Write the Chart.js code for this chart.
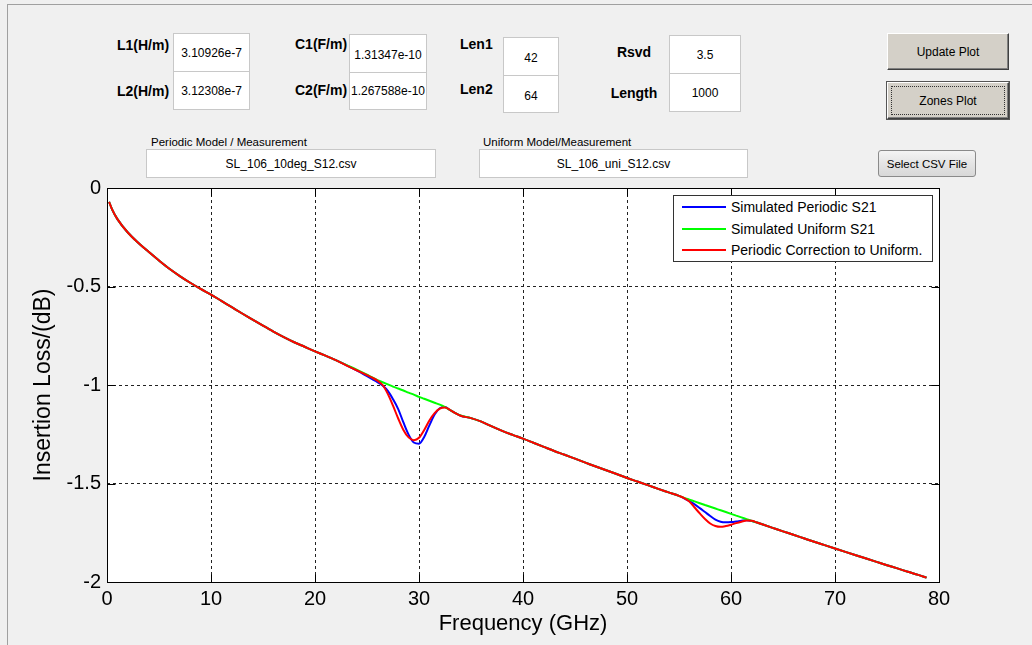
<!DOCTYPE html>
<html>
<head>
<meta charset="utf-8">
<title>Insertion Loss</title>
<script src="https://cdn.jsdelivr.net/npm/chart.js@4.4.1/dist/chart.umd.min.js"></script>
<style>
  html, body { margin: 0; padding: 0; }
  body {
    width: 1032px; height: 645px; background: #f0f0f0;
    position: relative; overflow: hidden;
    font-family: "Liberation Sans", Arial, sans-serif; color: #000;
  }
  .panel { position: absolute; left: 7px; top: 4px; width: 1040px; height: 660px;
    border-top: 1px solid #a0a0a0; border-left: 1px solid #a0a0a0; }
  .lbl { position: absolute; font-weight: bold; font-size: 14px; white-space: nowrap; transform: translateY(-50%); }
  .lbl.c { transform: translate(-50%, -50%); }
  .cap { position: absolute; font-size: 11.5px; white-space: nowrap; transform: translateY(-50%); }
  .box { position: absolute; background: #fff; border: 1px solid #c8c8c8; box-sizing: border-box;
    font-size: 12px; display: flex; align-items: center; justify-content: center; white-space: nowrap; }
  .btn { position: absolute; background: #d4d0c8; box-sizing: border-box; font-size: 12px;
    border: 1px solid; border-color: #fff #404040 #404040 #fff;
    box-shadow: inset -1px -1px #808080; display: flex; align-items: center; justify-content: center; }
  .btn .dots { position: absolute; left: 3px; top: 3px; right: 3px; bottom: 3px; border: 1px dotted #333; }
  .btn2 { position: absolute; box-sizing: border-box; font-size: 11.5px; border: 1px solid #8a8a8a; border-radius: 3px;
    background: linear-gradient(#f4f4f4, #e4e4e4 50%, #d8d8d8); display: flex; align-items: center; justify-content: center; }
  #chart { position: absolute; left: 0; top: 170px; }
  #legend { position: absolute; left: 673px; top: 195px; width: 260px; height: 67px; background: #fff;
    border: 1px solid #333; box-sizing: border-box; font-size: 14px; }
  #legend .row { position: absolute; left: 8px; height: 20px; display: flex; align-items: center; white-space: nowrap; }
  #legend .swatch { width: 44px; height: 2px; margin-right: 5px; }
</style>
</head>
<body>
<div class="panel"></div>

<div class="lbl" style="left:117px; top:45px;">L1(H/m)</div>
<div class="lbl" style="left:117px; top:91px;">L2(H/m)</div>
<div class="box" style="left:173px; top:33px; width:77px; height:39px;">3.10926e-7</div>
<div class="box" style="left:173px; top:71px; width:77px; height:39px;">3.12308e-7</div>

<div class="lbl" style="left:295px; top:44px;">C1(F/m)</div>
<div class="lbl" style="left:295px; top:90px;">C2(F/m)</div>
<div class="box" style="left:349px; top:34px; width:78px; height:39px; padding-top:3px;">1.31347e-10</div>
<div class="box" style="left:349px; top:72px; width:78px; height:38px;">1.267588e-10</div>

<div class="lbl" style="left:460px; top:44px;">Len1</div>
<div class="lbl" style="left:460px; top:89px;">Len2</div>
<div class="box" style="left:503px; top:37px; width:56px; height:39px; padding-top:3px;">42</div>
<div class="box" style="left:503px; top:75px; width:56px; height:38px; padding-top:3px;">64</div>

<div class="lbl c" style="left:634px; top:52px;">Rsvd</div>
<div class="lbl c" style="left:634px; top:93px;">Length</div>
<div class="box" style="left:669px; top:35px; width:72px; height:39px;">3.5</div>
<div class="box" style="left:669px; top:73px; width:72px; height:39px;">1000</div>

<div class="btn" style="left:887px; top:33px; width:122px; height:37px;">Update Plot</div>
<div class="btn" style="left:887px; top:82px; width:122px; height:37px; outline:1px solid #555;"><span class="dots"></span>Zones Plot</div>

<div class="cap" style="left:151px; top:142px;">Periodic Model / Measurement</div>
<div class="box" style="left:146px; top:149px; width:290px; height:29px;">SL_106_10deg_S12.csv</div>
<div class="cap" style="left:483px; top:142px;">Uniform Model/Measurement</div>
<div class="box" style="left:479px; top:149px; width:269px; height:29px;">SL_106_uni_S12.csv</div>
<div class="btn2" style="left:878px; top:150px; width:98px; height:27px;">Select CSV File</div>

<canvas id="chart" width="1032" height="475"></canvas>
<div id="legend"></div>

<script>
// Frequency points (GHz), finer steps around the two resonance dips
const freq = [0.2, 0.5, 1, 2, 3, 4, 5, 6, 7, 8, 9, 10, 11, 12, 13, 14, 15, 16, 17, 18, 19, 20,
  21, 22, 23, 24, 25, 25.5, 26, 26.5, 27, 27.5, 28, 28.5, 29, 29.5, 30, 30.5, 31, 31.5, 32, 32.5,
  33, 33.5, 34, 35, 36, 37, 38, 39, 40, 41, 42, 43, 44, 45, 46, 47, 48, 49, 50, 51, 52, 53, 54, 55,
  55.5, 56, 56.5, 57, 57.5, 58, 58.5, 59, 59.5, 60, 60.5, 61, 61.5, 62, 62.5, 63,
  64, 65, 66, 67, 68, 69, 70, 71, 72, 73, 74, 75, 76, 77, 78, 78.8];

const uniformS21 = [-0.070, -0.110, -0.158, -0.226, -0.278, -0.324, -0.368, -0.410, -0.447, -0.481, -0.512, -0.541,
  -0.573, -0.605, -0.637, -0.668, -0.699, -0.729, -0.757, -0.783, -0.806, -0.829,
  -0.851, -0.874, -0.898, -0.922, -0.948, -0.962, -0.975, -0.986, -0.997, -1.008, -1.018, -1.028, -1.039, -1.049,
  -1.060, -1.070, -1.080, -1.090, -1.100, -1.112,
  -1.128, -1.143, -1.155, -1.168, -1.186, -1.210, -1.233, -1.253, -1.272, -1.293, -1.314, -1.335, -1.354, -1.374,
  -1.394, -1.414, -1.433, -1.452, -1.472, -1.490, -1.508, -1.527, -1.545, -1.563,
  -1.573, -1.582, -1.591, -1.600, -1.609, -1.618, -1.627, -1.636, -1.645, -1.654, -1.663, -1.672, -1.681, -1.690, -1.698, -1.707,
  -1.725, -1.743, -1.760, -1.778, -1.796, -1.813, -1.830, -1.847, -1.864, -1.881, -1.898, -1.915, -1.931, -1.948, -1.964, -1.978];

const periodicS21 = [-0.070, -0.110, -0.158, -0.226, -0.278, -0.324, -0.368, -0.410, -0.447, -0.481, -0.512, -0.541,
  -0.573, -0.605, -0.637, -0.668, -0.699, -0.729, -0.757, -0.783, -0.806, -0.829,
  -0.851, -0.874, -0.899, -0.926, -0.955, -0.970, -0.985, -1.003, -1.030, -1.072, -1.122, -1.190, -1.252, -1.292,
  -1.298, -1.264, -1.205, -1.150, -1.118, -1.112,
  -1.128, -1.143, -1.156, -1.168, -1.186, -1.210, -1.233, -1.253, -1.272, -1.293, -1.314, -1.335, -1.354, -1.374,
  -1.394, -1.414, -1.433, -1.452, -1.472, -1.490, -1.508, -1.527, -1.545, -1.563,
  -1.575, -1.590, -1.606, -1.625, -1.645, -1.665, -1.683, -1.694, -1.697, -1.696, -1.693, -1.689, -1.686, -1.690, -1.698, -1.707,
  -1.725, -1.743, -1.760, -1.778, -1.796, -1.813, -1.830, -1.847, -1.864, -1.881, -1.898, -1.915, -1.931, -1.948, -1.964, -1.978];

const correctedS21 = [-0.070, -0.110, -0.158, -0.226, -0.278, -0.324, -0.368, -0.410, -0.447, -0.481, -0.512, -0.541,
  -0.573, -0.605, -0.637, -0.668, -0.699, -0.729, -0.757, -0.783, -0.806, -0.829,
  -0.851, -0.874, -0.900, -0.925, -0.950, -0.963, -0.978, -1.000, -1.045, -1.105, -1.170, -1.228, -1.266, -1.280,
  -1.268, -1.228, -1.180, -1.143, -1.120, -1.114,
  -1.127, -1.143, -1.156, -1.168, -1.186, -1.210, -1.233, -1.253, -1.272, -1.293, -1.314, -1.335, -1.354, -1.374,
  -1.394, -1.414, -1.433, -1.452, -1.472, -1.490, -1.508, -1.527, -1.545, -1.563,
  -1.574, -1.592, -1.622, -1.652, -1.680, -1.703, -1.716, -1.720, -1.716, -1.709, -1.701, -1.694, -1.688, -1.689, -1.698, -1.707,
  -1.725, -1.743, -1.760, -1.778, -1.796, -1.813, -1.830, -1.847, -1.864, -1.881, -1.898, -1.915, -1.931, -1.948, -1.964, -1.978];

const xTickLabels = [0, 10, 20, 30, 40, 50, 60, 70, 80];
const yTickLabels = [0, -0.5, -1, -1.5, -2];

const FONT = 'Liberation Sans';

function points(values) {
    return freq.map(function(f, i) { return { x: f, y: values[i] }; });
}

// white plot background, box around the axes and inward tick marks (MATLAB style)
const axesBox = {
    id: 'axesBox',
    beforeDraw(chart) {
        const a = chart.chartArea;
        const ctx = chart.ctx;
        ctx.save();
        ctx.fillStyle = '#fff';
        ctx.fillRect(a.left, a.top, a.right - a.left, a.bottom - a.top);
        ctx.restore();
    },
    afterDatasetsDraw(chart) {
        const a = chart.chartArea;
        const ctx = chart.ctx;
        const x = chart.scales.x, y = chart.scales.y;
        const l = Math.round(a.left) + 0.5, r = Math.round(a.right) + 0.5;
        const t = Math.round(a.top) + 0.5, b = Math.round(a.bottom) + 0.5;
        const len = 8;
        ctx.save();
        ctx.strokeStyle = '#000';
        ctx.lineWidth = 1;
        ctx.beginPath();
        x.ticks.forEach(function(tk) {
            const px = Math.round(x.getPixelForValue(tk.value)) + 0.5;
            ctx.moveTo(px, b); ctx.lineTo(px, b - len);
            ctx.moveTo(px, t); ctx.lineTo(px, t + len);
        });
        y.ticks.forEach(function(tk) {
            const py = Math.round(y.getPixelForValue(tk.value)) + 0.5;
            ctx.moveTo(l, py); ctx.lineTo(l + len, py);
            ctx.moveTo(r, py); ctx.lineTo(r - len, py);
        });
        ctx.stroke();
        ctx.strokeRect(l, t, r - l, b - t);
        ctx.restore();
    }
};

const chart = new Chart(document.getElementById('chart'), {
    type: 'line',
    data: {
        datasets: [
            { label: 'Simulated Periodic S21', data: points(periodicS21), borderColor: '#0000ff', order: 2 },
            { label: 'Simulated Uniform S21', data: points(uniformS21), borderColor: '#00ff00', order: 1 },
            { label: 'Periodic Correction to Uniform.', data: points(correctedS21), borderColor: '#ff0000', order: 0 }
        ]
    },
    options: {
        responsive: false,
        animation: false,
        events: [],
        datasets: {
            line: { borderWidth: 2, pointRadius: 0, fill: false, cubicInterpolationMode: 'monotone' }
        },
        layout: { padding: { left: 0, right: 93, top: 17, bottom: 0 } },
        plugins: { legend: { display: false }, tooltip: { enabled: false } },
        scales: {
            x: {
                type: 'linear', min: 0, max: 80,
                afterBuildTicks: function(s) { s.ticks = xTickLabels.map(function(v) { return { value: v }; }); },
                afterFit: function(s) { s.height = 63; },
                grid: { color: '#222', lineWidth: 1, drawTicks: false },
                border: { display: false, dash: [3, 3] },
                ticks: { color: '#000', padding: 5, font: { family: FONT, size: 20 },
                    callback: function(v) { return String(v); } },
                title: { display: true, text: 'Frequency (GHz)', color: '#000',
                    font: { family: FONT, size: 22 }, padding: { top: 0, bottom: 8 } }
            },
            y: {
                type: 'linear', min: -2, max: 0,
                afterBuildTicks: function(s) { s.ticks = yTickLabels.map(function(v) { return { value: v }; }); },
                afterFit: function(s) { s.width = 107; },
                grid: { color: '#222', lineWidth: 1, drawTicks: false },
                border: { display: false, dash: [3, 3] },
                ticks: { color: '#000', padding: 6, font: { family: FONT, size: 20 },
                    callback: function(v) { return String(v); } },
                title: { display: true, text: 'Insertion Loss/(dB)', color: '#000',
                    font: { family: FONT, size: 23 }, padding: { top: 30, bottom: 0 } }
            }
        }
    },
    plugins: [axesBox]
});

// legend box inside the axes, built from the chart datasets
const legendEl = document.getElementById('legend');
chart.data.datasets.forEach(function(ds, i) {
    const row = document.createElement('div');
    row.className = 'row';
    row.style.top = (1 + i * 21.7) + 'px';
    row.innerHTML = '<span class="swatch" style="background:' + ds.borderColor + '"></span>' + ds.label;
    legendEl.appendChild(row);
});
</script>
</body>
</html>
